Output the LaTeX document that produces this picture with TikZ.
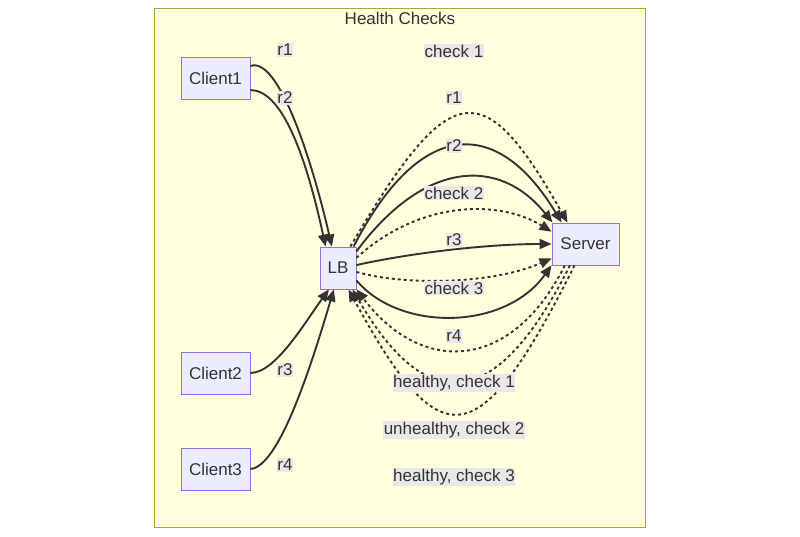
\documentclass[tikz,border=0pt]{standalone}
\usepackage{fontspec}
\setmainfont{Liberation Sans}
\usetikzlibrary{arrows.meta}
\definecolor{clfill}{HTML}{FFFFDE}
\definecolor{cldraw}{HTML}{AAAA33}
\definecolor{nfill}{HTML}{ECECFF}
\definecolor{ndraw}{HTML}{9370DB}
\definecolor{txt}{HTML}{333333}
\definecolor{lbg}{HTML}{E8E8E8}
\tikzset{
  box/.style={draw=ndraw, fill=nfill, line width=0.9pt, minimum height=42pt, inner sep=0pt, text=txt, font=\fontsize{17}{20}\selectfont},
  elabel/.style={fill=lbg, inner xsep=0.5pt, inner ysep=1pt, text=txt, font=\fontsize{17}{20}\selectfont},
  conn/.style={draw=txt, line width=1.9pt, -{Triangle[length=12pt,width=10pt]}},
  dotconn/.style={conn, dash pattern=on 3pt off 3pt},
}
\begin{document}
\begin{tikzpicture}[x=1pt,y=-1pt]
\path[fill=white] (0,0) rectangle (800,536);
\useasboundingbox (0,0) rectangle (800,536);
% cluster
\node[draw=cldraw, fill=clfill, line width=0.9pt, minimum width=491pt, minimum height=519pt, inner sep=0pt] (hc) at (399.5,267.5) {};
\node[text=txt, font=\fontsize{17}{20}\selectfont, inner sep=0pt] (title) at (400,18) {Health Checks};
% nodes
\node[box, minimum width=69pt] (c1) at (215.5,78) {Client1};
\node[box, minimum width=69pt] (c2) at (215.5,373) {Client2};
\node[box, minimum width=69pt] (c3) at (215.5,469) {Client3};
\node[box, minimum width=36pt] (lb) at (338,268) {LB};
\node[box, minimum width=67pt] (srv) at (585.5,244) {Server};
% client edges
\draw[conn] (c1.19) .. controls +(28,-10) and +(-20,-87) .. (lb.106);
\draw[conn] (c1.-19) .. controls +(30,0) and +(-21,-97) .. (lb.120);
\draw[conn] (c2.east) .. controls +(25,0) and +(-24,33) .. (lb.247);
\draw[conn] (c3.east) .. controls +(28,-2) and +(-24,81) .. (lb.259);
% LB -> Server
\draw[dotconn] (lb.60) .. controls +(101,-172) and +(-84,-148) .. (srv.130);
\draw[conn] (lb.54) .. controls +(67,-130) and +(-64,-106) .. (srv.138);
\draw[conn] (lb.42) .. controls +(69,-93) and +(-52,-65) .. (srv.147);
\draw[dotconn] (lb.29) .. controls +(64,-58) and +(-52,-32) .. (srv.160);
\draw[conn] (lb.9) .. controls +(44,-10) and +(-72,0) .. (srv.180);
\draw[dotconn] (lb.-12) .. controls +(44,13) and +(-62,27) .. (srv.203);
\draw[conn] (lb.-34) .. controls +(44,52) and +(-46,65) .. (srv.212);
% Server -> LB
\draw[dotconn] (srv.226) .. controls +(-54,108) and +(64,85) .. (lb.-49);
\draw[dotconn] (srv.234) .. controls +(-75,150) and +(73,126) .. (lb.-56);
\draw[dotconn] (srv.243) .. controls +(-97,193) and +(92,169) .. (lb.-64);
% labels
\node[elabel] (l1) at (285,50) {r1};
\node[elabel] (l2) at (285,98) {r2};
\node[elabel] (l3) at (285,370) {r3};
\node[elabel] (l4) at (285,465) {r4};
\node[elabel] (m1) at (454,51) {check 1};
\node[elabel] (m2) at (454,98) {r1};
\node[elabel] (m3) at (454,146) {r2};
\node[elabel] (m4) at (454,193) {check 2};
\node[elabel] (m5) at (454,240) {r3};
\node[elabel] (m6) at (454,288) {check 3};
\node[elabel] (m7) at (454,336) {r4};
\node[elabel] (m8) at (454,383) {healthy, check 1};
\node[elabel] (m9) at (454,430) {unhealthy, check 2};
\node[elabel] (m10) at (454,477) {healthy, check 3};
\end{tikzpicture}
\end{document}
